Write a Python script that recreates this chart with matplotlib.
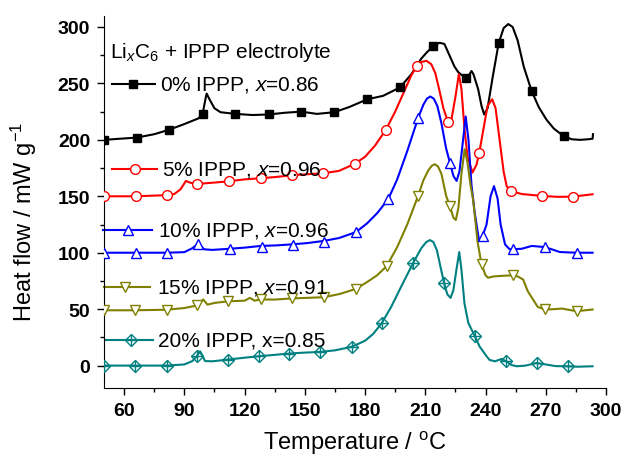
import matplotlib
matplotlib.use("Agg")
import matplotlib.pyplot as plt
from matplotlib.ticker import MultipleLocator
from matplotlib.transforms import blended_transform_factory

plt.rcParams['font.family'] = ['Liberation Sans', 'DejaVu Sans']
plt.rcParams['mathtext.fontset'] = 'custom'
plt.rcParams['mathtext.rm'] = 'Liberation Sans'
plt.rcParams['mathtext.it'] = 'Liberation Sans:italic'
plt.rcParams['mathtext.default'] = 'regular'

# ---- data: temperature (C) and heat flow (mW/g, offset) ----
t_0 = [50, 58, 66.3, 75, 82.5, 90, 97, 99.1, 100.5, 101.1, 102.5, 105, 108, 115.4, 124, 132,
       140, 148.2, 156, 164.7, 172, 181.2, 189, 197.4, 203, 208, 211, 213.9, 217, 219.5, 222,
       224.5, 226.4, 230.2, 232, 233, 234, 236.3, 238, 239.3, 241, 243.5, 246.5, 249, 251.3,
       253.5, 256, 259, 262.9, 266.5, 270.3, 274, 279.1, 283, 287, 291, 293.3, 293.5]
hf_0 = [200, 201, 202, 205, 209, 214, 219, 223, 236, 241, 236, 228, 224.5, 223, 222, 222.5,
        224, 225, 223, 224.5, 229, 236, 239, 246.5, 258, 272, 278, 282.8, 286, 285, 275,
        265, 260, 254.4, 258, 261, 258, 245, 230, 222.5, 228, 255, 285.4, 299, 302.6,
        300, 288, 265, 243.5, 229, 218, 210, 203, 200.5, 200, 200.5, 201, 205]

t_5 = [50, 65.8, 81.2, 85, 88, 90.8, 93, 96.5, 104, 112.4, 120, 128, 135, 143.4, 151, 159.2,
       167, 174.8, 180, 185, 190.3, 195, 200, 203, 205.8, 208, 210.6, 213, 215, 217, 219,
       221.4, 223, 225, 226.7, 228, 229.5, 231, 233.5, 235.5, 236.8, 239, 241, 243.3, 245,
       247, 249, 250.5, 252.6, 258, 268.2, 276, 283.7, 293.3]
hf_5 = [150, 150, 151, 152, 156, 163.6, 162, 161, 162, 163.3, 165, 166, 167, 168.6, 169.5, 170.4,
        172.5, 178.7, 185, 195, 208.8, 225, 245, 257, 265.6, 269, 270, 267, 259, 244, 228,
        215.4, 218, 238, 258.3, 245, 210, 185, 171, 178, 188, 210, 230, 236, 228,
        200, 172, 159, 154.7, 152, 150.3, 149.5, 149.7, 151.8]

t_10 = [50, 65.8, 81.2, 90, 94, 96.5, 98, 100, 104, 112.4, 120, 128, 136, 143.4, 151, 159.2,
        167, 175.5, 181, 186, 191.5, 196, 201, 206.5, 209, 210.8, 212.5, 214.2, 216, 218,
        220.3, 222.3, 224, 225.6, 227, 228.5, 230.1, 231.5, 233, 234.6, 236.8, 238.5, 240.5,
        242.5, 244.2, 246, 247.5, 249.7, 252, 258, 263, 269.6, 273, 277, 285.3, 293.3]
hf_10 = [100, 100, 100, 100.5, 104, 107.4, 106, 103, 102.5, 103.5, 104.5, 106, 106.5, 107.4, 108.5, 110.4,
         113, 118.3, 126, 135, 147.3, 165, 190, 219.8, 231, 236.5, 238.4, 236.5, 230, 215,
         193, 179.3, 168, 163.6, 172, 195, 220.7, 200, 160, 135.5, 110.4, 114.8, 125,
         150, 159, 148, 125, 107.4, 103, 103.5, 106, 105, 103, 100.6, 100, 100]

t_15 = [50, 65.4, 81.2, 90, 96.5, 99.4, 101.5, 105, 111.9, 120, 122.7, 125, 128, 135, 143.4,
        151, 159.7, 167.5, 175.5, 181, 186, 190.7, 196, 201, 206.4, 209, 211.5, 213.2, 214.7,
        216.3, 218, 220.4, 222.2, 224, 225.2, 226.5, 228, 229.6, 231, 232.5, 233.8, 236, 238,
        240, 241.3, 244, 248, 253.8, 256, 258.7, 261, 263.6, 266, 269.6, 274, 278, 285.3, 293.3]
hf_15 = [49, 49, 49.5, 51, 53.3, 58.6, 54, 55.5, 57, 57.5, 60, 57.5, 58.6, 58.5, 59.5,
         60, 60.6, 63.5, 68, 74, 80, 88, 105, 125, 150.3, 164, 173, 177, 178.4,
         176.5, 170, 150.3, 141.4, 131, 129, 140, 170, 191.7, 180, 160, 147, 110, 89.6,
         80, 77.8, 79, 79.5, 80, 79, 76.3, 66, 58.6, 52, 49.7, 50, 50.5, 48.2, 49.7]

t_20 = [50, 65.4, 81.2, 90, 94, 96.2, 97.8, 99, 100.3, 104, 111.6, 120, 127.3, 135, 142.3,
        150, 157.6, 165, 173.3, 180, 184, 188.2, 193, 198, 204, 208, 210.5, 212.3, 214, 215.8,
        217.5, 219.4, 221, 222.6, 224, 225.5, 226.9, 228, 229.5, 231.4, 234.7, 237, 240.5, 242,
        244.7, 248, 250.2, 253, 255.5, 260, 265.4, 270, 275, 281.2, 286, 293.3]
hf_20 = [0, 0, 0, 1, 4, 8.3, 12.7, 9, 4, 3.8, 5.3, 7, 8.3, 9.5, 10.7,
         11.5, 12.1, 13.5, 16.6, 22, 28, 37.3, 52, 70, 91.1, 104, 109.5, 111.2, 109.5, 102,
         88, 72.8, 63, 60, 67, 85, 100.6, 85, 55, 37.9, 26, 17, 8.3, 5,
         3.8, 5.9, 3.8, 0.5, -0.6, 0, 2.3, 1, -0.5, -0.6, -1, -0.6]

# marker (symbol) positions
mt_0 = [50, 66.3, 82.5, 99.1, 115.4, 132, 148.2, 164.7, 181.2, 197.4, 213.9, 230.2, 246.5, 262.9, 279.1]
mv_0 = [200, 202, 209, 223, 223, 222.5, 225, 224.5, 236, 246.5, 282.8, 254.4, 285.4, 243.5, 203]
mt_5 = [50, 65.8, 81.2, 96.5, 112.4, 128, 143.4, 159.2, 174.8, 190.3, 205.8, 221.4, 236.8, 252.6, 268.2, 283.7]
mv_5 = [150, 150, 151, 161, 163.3, 166, 168.6, 170.4, 178.7, 208.8, 265.6, 215.4, 188, 154.7, 150.3, 149.7]
mt_10 = [50, 65.8, 81.2, 96.8, 112.7, 128.5, 144.2, 159.5, 175.5, 191.5, 206.5, 222.3, 238.5, 253.8, 269.6, 285.3]
mv_10 = [100, 100, 100, 107.4, 103, 105, 106.5, 109.8, 118.3, 147.3, 219.8, 179.3, 114.8, 103, 105, 100]
mt_15 = [50, 65.4, 81.2, 96.5, 111.9, 128, 143.4, 159.7, 175.5, 190.7, 206.4, 222.2, 238, 253.8, 269.6, 285.3]
mv_15 = [49, 49, 49.5, 53.3, 57, 58.6, 59.5, 60.6, 68, 88, 150.3, 141.4, 89.6, 80, 49.7, 48.2]
mt_20 = [50, 65.4, 81.2, 96.2, 111.6, 127.3, 142.3, 157.6, 173.3, 188.2, 204, 219.4, 234.7, 250.2, 265.4, 281.2]
mv_20 = [0, 0, 0, 8.3, 5.3, 8.3, 10.7, 12.1, 16.6, 37.3, 91.1, 72.8, 26, 3.8, 2.3, -0.6]

labels = ['0% IPPP, $\\mathit{x}$=0.86', '5% IPPP, $\\mathit{x}$=0.96', '10% IPPP, $\\mathit{x}$=0.96',
          '15% IPPP, $\\mathit{x}$=0.91', '20% IPPP, x=0.85']
label_y = [249.4, 174, 119.8, 69.2, 23.1]

fig = plt.figure(figsize=(6.24, 4.6), dpi=100)
ax = fig.add_axes([0.1667, 0.154, 0.8045, 0.8097])

styles = [
    dict(color='black', marker='s', mfc='black', ms=6),
    dict(color='red', marker='o', mfc='white', ms=7),
    dict(color='blue', marker='^', mfc='white', ms=7),
    dict(color='#808000', marker='v', mfc='white', ms=7),
    dict(color='#008080', marker='D', mfc='none', ms=6),
]
curves = [(t_0, hf_0, mt_0, mv_0), (t_5, hf_5, mt_5, mv_5), (t_10, hf_10, mt_10, mv_10),
          (t_15, hf_15, mt_15, mv_15), (t_20, hf_20, mt_20, mv_20)]

for (t, hf, mt, mv), st in zip(curves, styles):
    ax.plot(t, hf, color=st['color'], lw=1.5, zorder=2)
    ax.plot(mt, mv, ls='none', marker=st['marker'], ms=st['ms'], mfc=st['mfc'],
            mec=st['color'], mew=1, zorder=3)
    if st['marker'] == 'D':
        ax.plot(mt, mv, ls='none', marker='+', ms=8, mec=st['color'], mew=1, zorder=3)

# in-plot legend entries
tr = blended_transform_factory(ax.transAxes, ax.transData)
hx = [(0.016, 0.102, 0.058, 0.112), (0.016, 0.106, 0.062, 0.116), (-0.002, 0.096, 0.048, 0.108),
      (0.0, 0.092, 0.042, 0.106), (0.002, 0.098, 0.054, 0.108)]
for (x0, x1, xm, xt), y, lab, st in zip(hx, label_y, labels, styles):
    ax.plot([x0, x1], [y, y], color=st['color'], lw=1.5, transform=tr, clip_on=False)
    ax.plot([xm], [y], marker=st['marker'], ms=st['ms'], mfc=st['mfc'], mec=st['color'],
            mew=1, transform=tr, clip_on=False)
    if st['marker'] == 'D':
        ax.plot([xm], [y], marker='+', ms=8, mec=st['color'], mew=1, transform=tr, clip_on=False)
    ax.text(xt, y, lab, transform=tr, fontsize=15, va='center', ha='left')
ax.text(0.012, 278.7, 'Li$_{\\mathit{x}}$C$_6$ + IPPP electrolyte', transform=tr,
        fontsize=15, va='center', ha='left')

ax.set_xlim(50, 300)
ax.set_ylim(-20, 310)
ax.xaxis.set_major_locator(MultipleLocator(30))
ax.xaxis.set_minor_locator(MultipleLocator(15))
ax.yaxis.set_major_locator(MultipleLocator(50))
ax.yaxis.set_minor_locator(MultipleLocator(25))
ax.set_xticks(range(60, 301, 30))
ax.tick_params(which='major', direction='out', length=5, width=1, labelsize=14, pad=5)
ax.tick_params(which='minor', direction='out', length=3, width=1)
for lab in ax.get_xticklabels() + ax.get_yticklabels():
    lab.set_fontweight('bold')
ax.spines['top'].set_visible(False)
ax.spines['right'].set_visible(False)

ax.set_xlabel('Temperature / $^{o}$C', fontsize=17)
ax.set_ylabel('Heat flow / mW g$^{-1}$', fontsize=17)
ax.xaxis.set_label_coords(0.5, -0.11)
ax.yaxis.set_label_coords(-0.13, 0.45)

fig.savefig('out.png', dpi=100)
